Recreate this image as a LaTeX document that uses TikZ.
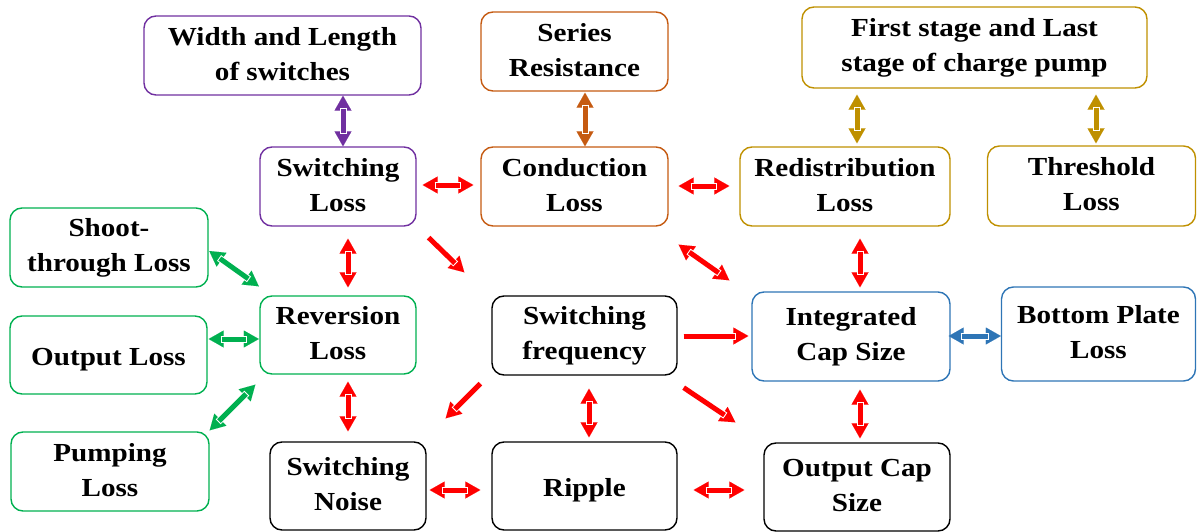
\documentclass[tikz,border=0pt]{standalone}
\usepackage{fontspec}
\setmainfont{Liberation Serif}[FakeStretch=1.12]
\usetikzlibrary{arrows.meta,calc}

\definecolor{cpurple}{HTML}{7030A0}
\definecolor{corange}{HTML}{C55A11}
\definecolor{cgold}{HTML}{BF9000}
\definecolor{cgreen}{HTML}{00B050}
\definecolor{cblue}{HTML}{2E75B6}
\definecolor{cred}{HTML}{FF0000}

\tikzset{
  % struts give every text block the same first-line height and last-line depth
  box/.style={draw=#1, rounded corners=12pt, line width=1.4pt, align=center,
    inner sep=0pt, font=\fontsize{26}{35}\selectfont\bfseries,
    execute at begin node={\rule{0pt}{27.5pt}},
    execute at end node={\rule[-4pt]{0pt}{4pt}}},
  headtip/.tip={Triangle[length=15pt,width=17pt,line width=0.01pt]},
  dblarr/.style={draw=#1, line width=5pt, {headtip}-{headtip},
    postaction={draw=white, line width=7pt, -, shorten <=12pt, shorten >=12pt},
    postaction={draw=#1, line width=5pt, -, shorten <=13pt, shorten >=13pt}},
  sglarr/.style={draw=#1, line width=5pt, -{headtip},
    postaction={draw=white, line width=7pt, -, shorten >=12pt},
    postaction={draw=#1, line width=5pt, -, shorten >=13pt}},
}

\begin{document}
\begin{tikzpicture}[x=1pt,y=-1pt]
\useasboundingbox (0,0) rectangle (1197,532);

% top row
\node[box=cpurple, minimum width=277pt, minimum height=79pt] (wl) at (282.5,55.5) {Width and Length\\of switches};
\node[box=corange, minimum width=187pt, minimum height=79pt] (sr) at (574.5,51.5) {Series\\Resistance};
\node[box=cgold, minimum width=345pt, minimum height=81pt] (fs) at (974.5,47.5) {First stage and Last\\stage of charge pump};

% second row
\node[box=cpurple, minimum width=156pt, minimum height=79pt] (swl) at (338,186.5) {Switching\\Loss};
\node[box=corange, minimum width=187pt, minimum height=79pt] (cl) at (574.5,186.5) {Conduction\\Loss};
\node[box=cgold, minimum width=210pt, minimum height=79pt] (rl) at (845,186.5) {Redistribution\\Loss};
\node[box=cgold, minimum width=208pt, minimum height=80pt] (tl) at (1091.5,186) {Threshold\\Loss};

% left column
\node[box=cgreen, minimum width=198pt, minimum height=79pt] (st) at (109,247.5) {Shoot-\\through Loss};
\node[box=cgreen, minimum width=197pt, minimum height=78pt] (ol) at (108.5,355) {Output Loss};
\node[box=cgreen, minimum width=198pt, minimum height=79pt] (pl) at (110,471.5) {Pumping\\Loss};

% middle row
\node[box=cgreen, minimum width=156pt, minimum height=78pt] (rv) at (338,335) {Reversion\\Loss};
\node[box=black, minimum width=185pt, minimum height=79pt] (sf) at (584.5,335.5) {Switching\\frequency};
\node[box=cblue, minimum width=198pt, minimum height=89pt] (ic) at (851,336.5) {Integrated\\Cap Size};
\node[box=cblue, minimum width=194pt, minimum height=94pt] (bp) at (1098.5,334) {Bottom Plate\\Loss};

% bottom row
\node[box=black, minimum width=156pt, minimum height=88pt] (sn) at (348,486) {Switching\\Noise};
\node[box=black, minimum width=185pt, minimum height=88pt] (rp) at (584.5,486) {Ripple};
\node[box=black, minimum width=186pt, minimum height=88pt] (oc) at (857,487) {Output Cap\\Size};

% coloured links to the parameter boxes
\draw[dblarr=cpurple] ($(wl.south)+(60.5,0)$) -- ($(swl.north)+(5,0)$);
\draw[dblarr=corange] ($(sr.south)+(10.5,1)$) -- ($(cl.north)+(10.5,0)$);
\draw[dblarr=cgold] ($(fs.south)+(-117.5,6)$) -- ($(rl.north)+(12,-3)$);
\draw[dblarr=cgold] ($(fs.south)+(121.5,6)$) -- ($(tl.north)+(4.5,-2)$);
\draw[dblarr=cblue] ($(ic.east)+(-2,-0.5)$) -- ($(bp.west)+(0,2)$);

% green links to the reversion loss
\draw[dblarr=cgreen] ($(st.east)+(0.6,3.5)$) -- ($(rv.north west)+(-0.5,-9)$);
\draw[dblarr=cgreen] ($(ol.east)+(1,-16)$) -- ($(rv.west)+(-0.5,4)$);
\draw[dblarr=cgreen] ($(pl.north east)+(0,-1)$) -- ($(rv.south west)+(-4,10)$);

% red links between the losses
\draw[dblarr=cred] ($(swl.east)+(6,-1.5)$) -- ($(cl.west)+(-7,-1.5)$);
\draw[dblarr=cred] ($(cl.east)+(10,-0.5)$) -- ($(rl.west)+(-10,-0.5)$);
\draw[dblarr=cred] ($(swl.south)+(10,12)$) -- ($(rv.north)+(10,-8)$);
\draw[sglarr=cred] ($(swl.south east)+(12,11)$) -- ($(sf.north west)+(-27,-23)$);
\draw[dblarr=cred] ($(cl.south east)+(10,18)$) -- ($(ic.north west)+(-22,-11)$);
\draw[dblarr=cred] ($(rl.south)+(15,12)$) -- ($(ic.north)+(9,-4)$);
\draw[sglarr=cred] ($(sf.east)+(6,0.5)$) -- ($(ic.west)+(-3,-0.5)$);
\draw[sglarr=cred] ($(sf.south east)+(6,12)$) -- ($(oc.north west)+(-28,-20)$);
\draw[dblarr=cred] ($(ic.south)+(9,8)$) -- ($(oc.north)+(3,-4)$);
\draw[dblarr=cred] ($(rp.east)+(16,4)$) -- ($(oc.west)+(-19,3)$);
\draw[dblarr=cred] ($(sf.south)+(4.5,13)$) -- ($(rp.north)+(4.5,-4)$);
\draw[sglarr=cred] ($(sf.south west)+(-11,8)$) -- ($(sn.north east)+(19,-23)$);
\draw[dblarr=cred] ($(rv.south)+(10,7)$) -- ($(sn.north)+(0,-10)$);
\draw[dblarr=cred] ($(sn.east)+(3,4)$) -- ($(rp.west)+(-11,4)$);
\end{tikzpicture}
\end{document}
